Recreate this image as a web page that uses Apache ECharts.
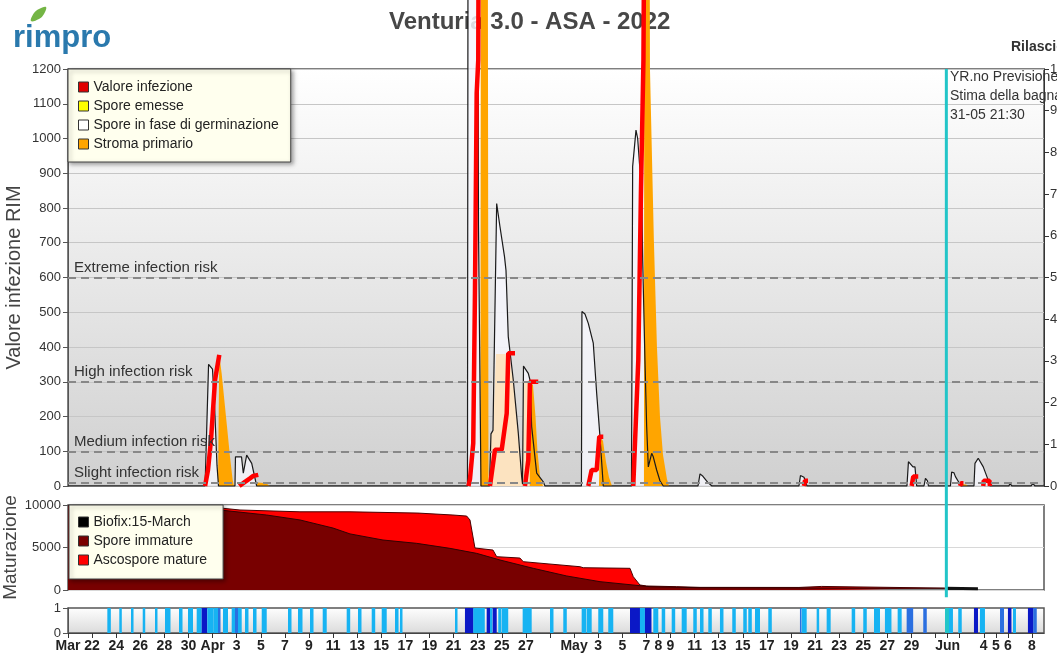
<!DOCTYPE html>
<html>
<head>
<meta charset="utf-8">
<title>Venturia 3.0 - ASA - 2022</title>
<script src="https://cdn.jsdelivr.net/npm/echarts@6/dist/echarts.min.js"></script>
<style>
html, body { margin: 0; padding: 0; background: #fff; }
#grafico { width: 1057px; height: 658px; }
</style>
</head>
<body>
<div id="grafico"></div>
<script>
/**********************************************/
/* Dati del grafico */
/**********************************************/
// etichette dell'asse tempo
var ETICHETTE_GIORNI = ['2022-03-20','2022-03-22','2022-03-24','2022-03-26','2022-03-28','2022-03-30',
	'2022-04-01','2022-04-03','2022-04-05','2022-04-07','2022-04-09','2022-04-11','2022-04-13','2022-04-15',
	'2022-04-17','2022-04-19','2022-04-21','2022-04-23','2022-04-25','2022-04-27',
	'2022-05-01','2022-05-03','2022-05-05','2022-05-07','2022-05-08','2022-05-09','2022-05-11','2022-05-13',
	'2022-05-15','2022-05-17','2022-05-19','2022-05-21','2022-05-23','2022-05-25','2022-05-27','2022-05-29',
	'2022-06-01','2022-06-04','2022-06-05','2022-06-06','2022-06-08'];
var ETICHETTE_TESTO = ['Mar','22','24','26','28','30',
	'Apr','3','5','7','9','11','13','15','17','19','21','23','25','27',
	'May','3','5','7','8','9','11','13','15','17','19','21','23','25','27','29',
	'Jun','4','5','6','8'];

// soglie di rischio
var sogliaValori = [600, 300, 100, 10];
var sogliaNomi = ['Extreme infection risk', 'High infection risk', 'Medium infection risk', 'Slight infection risk'];

// spore in fase di germinazione (linea nera)
var sporeGerminazione = [
	['2022-03-20 00:00', 0], ['2022-03-31 09:00', 0], ['2022-03-31 16:00', 350], ['2022-03-31 19:00', 352],
	['2022-03-31 23:50', 336], ['2022-04-01 04:50', 200], ['2022-04-01 08:45', 60], ['2022-04-01 11:45', 0],
	['2022-04-02 20:35', 0], ['2022-04-02 21:35', 84], ['2022-04-03 09:35', 84], ['2022-04-03 13:10', 37],
	['2022-04-03 19:55', 89], ['2022-04-04 05:55', 65], ['2022-04-04 15:50', 0],
	['2022-04-22 03:40', 0], ['2022-04-22 05:40', 3000], ['2022-04-22 22:35', 3000], ['2022-04-23 01:35', 750],
	['2022-04-23 06:35', 0], ['2022-04-23 23:30', 0], ['2022-04-24 02:30', 150], ['2022-04-24 06:30', 160],
	['2022-04-24 13:50', 813], ['2022-04-24 20:25', 746], ['2022-04-25 05:25', 660], ['2022-04-25 08:25', 620],
	['2022-04-25 12:55', 430], ['2022-04-25 22:55', 305], ['2022-04-26 08:55', 152], ['2022-04-26 15:35', 27],
	['2022-04-26 17:20', 5], ['2022-04-26 19:15', 345], ['2022-04-26 22:10', 348], ['2022-04-27 04:50', 324],
	['2022-04-27 08:10', 305], ['2022-04-27 11:30', 171], ['2022-04-27 21:30', 37], ['2022-04-28 10:40', 12],
	['2022-04-28 14:00', 0], ['2022-05-01 14:40', 0], ['2022-05-01 15:40', 502], ['2022-05-01 21:40', 495],
	['2022-05-02 04:20', 468], ['2022-05-02 14:15', 411], ['2022-05-02 21:00', 267], ['2022-05-03 03:35', 142],
	['2022-05-03 10:10', 0], ['2022-05-05 18:20', 0], ['2022-05-05 20:40', 919], ['2022-05-06 03:20', 1024],
	['2022-05-06 06:40', 1000], ['2022-05-06 14:40', 842], ['2022-05-06 16:40', 650], ['2022-05-06 21:10', 362],
	['2022-05-07 00:35', 171], ['2022-05-07 03:50', 55], ['2022-05-07 10:35', 94], ['2022-05-07 13:45', 84],
	['2022-05-07 20:30', 46], ['2022-05-08 03:05', 15], ['2022-05-08 09:40', 0],
	['2022-05-11 06:50', 0], ['2022-05-11 10:50', 35], ['2022-05-11 16:40', 28], ['2022-05-12 02:40', 10],
	['2022-05-12 10:35', 0], ['2022-05-19 15:55', 0], ['2022-05-19 18:55', 30], ['2022-05-20 01:55', 25],
	['2022-05-20 07:55', 0], ['2022-05-28 15:00', 0], ['2022-05-28 18:00', 70], ['2022-05-28 21:00', 72],
	['2022-05-29 03:00', 55], ['2022-05-29 07:00', 55], ['2022-05-29 10:25', 0], ['2022-05-30 00:55', 0],
	['2022-05-30 03:55', 22], ['2022-05-30 07:55', 15], ['2022-05-30 09:50', 0], ['2022-06-01 05:40', 0],
	['2022-06-01 08:05', 40], ['2022-06-01 12:35', 38], ['2022-06-01 15:35', 27], ['2022-06-01 22:35', 10],
	['2022-06-02 02:35', 0], ['2022-06-03 04:30', 0], ['2022-06-03 06:30', 65], ['2022-06-03 13:00', 80],
	['2022-06-03 23:00', 55], ['2022-06-04 08:55', 17], ['2022-06-04 12:20', 0], ['2022-06-06 02:10', 0],
	['2022-06-06 04:10', 7], ['2022-06-06 08:10', 0], ['2022-06-07 22:00', 0], ['2022-06-08 02:00', 7],
	['2022-06-08 06:00', 0], ['2022-06-09 00:00', 0]
];

// valore infezione (linea rossa), '-' = interruzione
var valoreInfezione = [
	['2022-03-31 09:00', 0], ['2022-03-31 14:50', 46], ['2022-03-31 20:50', 132], ['2022-04-01 04:50', 305],
	['2022-04-01 13:20', 377], ['2022-04-01 14:00', '-'],
	['2022-04-03 05:10', 0], ['2022-04-03 16:30', 12], ['2022-04-04 02:30', 22], ['2022-04-04 09:05', 29],
	['2022-04-04 12:25', 32], ['2022-04-04 19:00', 32], ['2022-04-04 20:00', '-'],
	['2022-04-22 05:40', 0], ['2022-04-22 08:40', 20], ['2022-04-22 15:10', 123], ['2022-04-22 18:35', 555],
	['2022-04-22 22:00', 1130], ['2022-04-23 01:10', 1226], ['2022-04-23 03:35', 2500], ['2022-04-23 04:00', '-'],
	['2022-04-24 00:30', 0], ['2022-04-24 10:25', 104], ['2022-04-24 23:50', 104], ['2022-04-25 09:50', 209],
	['2022-04-25 12:55', 382], ['2022-04-26 02:20', 382], ['2022-04-26 03:00', '-'],
	['2022-04-26 22:10', 0], ['2022-04-27 04:50', 75], ['2022-04-27 08:10', 300], ['2022-04-28 00:40', 300],
	['2022-04-28 01:00', '-'],
	['2022-05-02 04:20', 0], ['2022-05-02 11:00', 46], ['2022-05-02 21:00', 46], ['2022-05-03 02:10', 142],
	['2022-05-03 10:10', 142], ['2022-05-03 11:00', '-'],
	['2022-05-05 21:55', 0], ['2022-05-06 07:55', 362], ['2022-05-06 13:10', 843], ['2022-05-06 18:10', 1226],
	['2022-05-06 23:10', 2500], ['2022-05-07 00:00', '-'],
	['2022-05-20 01:55', 0], ['2022-05-20 03:55', 15], ['2022-05-20 09:55', 15], ['2022-05-20 10:30', '-'],
	['2022-05-29 00:25', 0], ['2022-05-29 03:35', 27], ['2022-05-29 13:30', 27], ['2022-05-29 14:00', '-'],
	['2022-06-02 00:35', 0], ['2022-06-02 02:35', 8], ['2022-06-02 07:35', 8], ['2022-06-02 08:00', '-'],
	['2022-06-03 23:00', 0], ['2022-06-04 00:00', 15], ['2022-06-04 11:20', 15], ['2022-06-04 12:20', 0]
];

// stroma primario (area arancione)
var stromaPrimario = [
	['2022-03-20 00:00', 0], ['2022-04-01 10:45', 0], ['2022-04-01 13:20', 377], ['2022-04-01 18:05', 324],
	['2022-04-02 04:05', 180], ['2022-04-02 10:40', 84], ['2022-04-02 16:00', 17], ['2022-04-02 18:35', 0],
	['2022-04-04 14:25', 0], ['2022-04-04 18:25', 10], ['2022-04-05 10:25', 8], ['2022-04-05 18:20', 0],
	['2022-04-23 05:35', 0], ['2022-04-23 06:35', 2500], ['2022-04-23 19:30', 2500], ['2022-04-23 21:30', 0],
	['2022-04-27 07:45', 0], ['2022-04-27 08:45', 300], ['2022-04-27 14:10', 290], ['2022-04-27 19:10', 200],
	['2022-04-27 23:05', 100], ['2022-04-28 04:05', 27], ['2022-04-28 10:05', 0],
	['2022-05-03 01:35', 0], ['2022-05-03 03:35', 140], ['2022-05-03 09:35', 130], ['2022-05-03 15:30', 70],
	['2022-05-03 21:30', 25], ['2022-05-04 03:30', 0],
	['2022-05-06 19:10', 0], ['2022-05-06 20:10', 2500], ['2022-05-07 05:10', 2500], ['2022-05-07 07:10', 1200],
	['2022-05-07 15:05', 700], ['2022-05-07 21:05', 400], ['2022-05-08 03:05', 200], ['2022-05-08 09:05', 90],
	['2022-05-08 17:00', 20], ['2022-05-08 21:00', 0],
	['2022-06-02 02:35', 0], ['2022-06-02 04:35', 6], ['2022-06-02 12:35', 4], ['2022-06-02 16:35', 0],
	['2022-06-09 00:00', 0]
];

// spore emesse (area chiara)
var sporeEmesse = [
	['2022-04-24 00:30', 0], ['2022-04-24 02:30', 150], ['2022-04-24 06:30', 160], ['2022-04-24 12:25', 380],
	['2022-04-25 12:55', 380], ['2022-04-25 22:55', 305], ['2022-04-26 08:55', 152], ['2022-04-26 15:35', 27],
	['2022-04-26 17:20', 5], ['2022-04-26 19:15', 300], ['2022-04-27 08:10', 300], ['2022-04-27 11:30', 171],
	['2022-04-27 21:30', 37], ['2022-04-28 10:40', 12], ['2022-04-28 14:00', 0]
];

// maturazione: ascospore mature (bordo superiore) e spore immature
var ascosporeMature = [
	['2022-03-20 00:00', 9950], ['2022-04-01 14:45', 9650], ['2022-04-03 06:35', 9410], ['2022-04-08 06:05', 9200],
	['2022-04-12 09:40', 9200], ['2022-04-18 01:05', 9050], ['2022-04-20 22:50', 8820], ['2022-04-22 02:05', 8700],
	['2022-04-22 08:40', 8240], ['2022-04-22 18:35', 4940], ['2022-04-24 06:30', 4700], ['2022-04-24 13:50', 3920],
	['2022-04-26 12:10', 3760], ['2022-04-26 18:50', 3330], ['2022-05-01 11:45', 2740], ['2022-05-01 18:20', 2620],
	['2022-05-05 15:20', 2550], ['2022-05-05 21:55', 1570], ['2022-05-06 11:10', 590], ['2022-05-07 00:35', 470],
	['2022-05-09 12:20', 390], ['2022-05-11 10:50', 310], ['2022-05-19 15:55', 300], ['2022-05-19 17:55', 420],
	['2022-05-21 13:05', 420], ['2022-05-21 13:40', 270], ['2022-05-31 18:40', 220]
];
var sporeImmature = [
	['2022-03-20 00:00', 9900], ['2022-04-01 14:45', 9410], ['2022-04-05 11:45', 8820], ['2022-04-08 06:05', 8240],
	['2022-04-10 23:50', 7290], ['2022-04-12 09:40', 6600], ['2022-04-15 03:25', 5880], ['2022-04-17 22:30', 5490],
	['2022-04-20 16:50', 4900], ['2022-04-22 22:00', 4310], ['2022-04-24 20:25', 3530], ['2022-04-27 14:40', 2550],
	['2022-04-30 09:20', 1650], ['2022-05-03 03:35', 980], ['2022-05-05 21:20', 590], ['2022-05-07 07:10', 390],
	['2022-05-11 10:50', 270], ['2022-05-19 17:55', 250], ['2022-05-31 18:40', 200]
];
var biofixPrevisione = [['2022-05-31 20:40', 220], ['2022-06-03 12:25', 160]];

// bagnatura fogliare: inizio, durata (ore), livello (1 chiaro, 2 medio, 3 scuro)
var bagnaturaInizio = ['2022-03-23 06:20','2022-03-24 06:10','2022-03-25 05:30','2022-03-26 04:50','2022-03-27 05:15',
	'2022-03-28 01:10','2022-03-29 05:05','2022-03-29 23:00','2022-03-30 16:20','2022-03-31 02:20','2022-03-31 13:25',
	'2022-04-01 01:25','2022-04-01 10:45','2022-04-01 20:40','2022-04-02 14:00','2022-04-02 20:35','2022-04-03 16:30',
	'2022-04-04 08:30','2022-04-05 01:50','2022-04-07 06:10','2022-04-08 02:05','2022-04-09 02:00','2022-04-10 03:20',
	'2022-04-12 03:05','2022-04-13 01:35','2022-04-14 04:55','2022-04-15 00:50','2022-04-16 03:20','2022-04-16 13:15',
	'2022-04-21 02:50','2022-04-21 22:40','2022-04-22 15:10','2022-04-23 17:55','2022-04-24 00:30','2022-04-24 05:55',
	'2022-04-24 17:00','2022-04-24 23:50','2022-04-26 17:35','2022-04-29 00:00','2022-04-30 02:30','2022-05-01 15:05',
	'2022-05-02 01:05','2022-05-03 00:10','2022-05-03 20:05','2022-05-05 15:20','2022-05-06 11:10','2022-05-06 21:10',
	'2022-05-07 13:45','2022-05-08 06:30','2022-05-09 02:25','2022-05-09 22:20','2022-05-10 21:25','2022-05-11 10:50',
	'2022-05-12 03:20','2022-05-13 02:35','2022-05-14 03:05','2022-05-15 01:00','2022-05-15 11:00','2022-05-16 00:20',
	'2022-05-17 02:50','2022-05-19 17:55','2022-05-19 21:20','2022-05-21 03:10','2022-05-21 23:05','2022-05-24 00:55',
	'2022-05-25 00:00','2022-05-25 21:20','2022-05-26 19:10','2022-05-27 20:30','2022-05-28 14:25','2022-05-29 23:30',
	'2022-06-01 00:40','2022-06-01 21:10','2022-06-03 04:30','2022-06-03 16:25','2022-06-05 08:20','2022-06-06 00:10',
	'2022-06-06 10:10','2022-06-07 16:00','2022-06-08 02:35'];
var bagnaturaOre = [7,5,5,5,5, 11,7,10,10,11,12, 13,5,10,20,6,7, 7,10,7,9,7,8, 7,7,7,10,7,5,
	5,17,23,7,5,8, 6,13,18,7,7,9, 10,10,10,20,10,13, 10,7,7,10,7,7, 7,7,7,7,7,10,
	7,3,10,5,8,7, 7,12,13,8,13,7, 10,7,8,10,8,7, 6,11,7];
var bagnaturaLivello = [1,1,1,1,1, 1,1,1,1,3,1, 1,2,1,1,2,1, 1,1,1,1,1,1, 1,1,1,1,1,1,
	1,3,1,3,1,3, 1,1,1,1,1,1, 1,1,1,3,1,3, 1,1,1,1,1,1, 1,1,1,1,1,1,
	1,2,1,1,1,1, 1,1,1,1,2,2, 1,1,3,1,2,3, 1,3,2];

// inizio della previsione YR.no
var previsioneDa = '2022-05-31 21:30';

/**********************************************/
/* Funzioni di supporto */
/**********************************************/
// converte "AAAA-MM-GG hh:mm" in millisecondi (ora locale)
function tempo(s) {
	var p = s.split(/[- :]/).map(Number);
	return new Date(p[0], p[1] - 1, p[2], p[3] || 0, p[4] || 0).getTime();
}
function punti(lista) {
	return lista.map(function (p) { return [tempo(p[0]), p[1]]; });
}

var INIZIO = tempo('2022-03-20 00:00');
var FINE = tempo('2022-06-09 00:00');
var T_PREV = tempo(previsioneDa);

// etichette e tacche dell'asse tempo
var mappaEtichette = {};
var valoriEtichette = ETICHETTE_GIORNI.map(function (g, i) {
	var t = tempo(g);
	mappaEtichette[t] = ETICHETTE_TESTO[i];
	return t;
});
var tacche = [];
for (var g = 0; g <= 81; g += 2) {
	tacche.push(new Date(2022, 2, 20 + g).getTime());
}
valoriEtichette.forEach(function (t) { if (tacche.indexOf(t) < 0) tacche.push(t); });
tacche.sort(function (a, b) { return a - b; });

var COLORI_BAGNATURA = { 1: '#17b3f2', 2: '#2b6fe0', 3: '#0b18c6' };
var datiBagnatura = bagnaturaInizio.map(function (s, i) {
	var t = tempo(s);
	return [t, t + bagnaturaOre[i] * 3600000, bagnaturaLivello[i]];
});

var FONT = '"Liberation Sans", Arial, sans-serif';

function numeroSemplice(v) { return String(v); }

function asseTempo(indice, conEtichette) {
	return {
		type: 'value',
		gridIndex: indice,
		min: INIZIO,
		max: FINE,
		splitLine: { show: false },
		axisLine: { show: conEtichette, lineStyle: { color: '#444', width: 1 } },
		axisTick: { show: conEtichette, customValues: tacche, length: 5, lineStyle: { color: '#333' } },
		axisLabel: {
			show: conEtichette,
			customValues: valoriEtichette,
			formatter: function (v) { return mappaEtichette[v] || ''; },
			fontWeight: 'bold',
			fontSize: 14,
			color: '#222',
			margin: 6
		}
	};
}

function sfondo(alto, basso) {
	return new echarts.graphic.LinearGradient(0, 0, 0, 1, [
		{ offset: 0, color: alto },
		{ offset: 1, color: basso }
	]);
}

/**********************************************/
/* Grafico */
/**********************************************/
var chart = echarts.init(document.getElementById('grafico'), null, { renderer: 'canvas' });

chart.setOption({
	animation: false,
	textStyle: { fontFamily: FONT },
	title: {
		text: 'Venturia 3.0 - ASA - 2022',
		left: 384,
		top: 5,
		z: 0,
		textStyle: { fontSize: 24, fontWeight: 'bold', color: '#474747', fontFamily: FONT }
	},
	legend: [
		{
			left: 68, top: 69,
			orient: 'vertical',
			selectedMode: false,
			data: ['Valore infezione', 'Spore emesse', 'Spore in fase di germinazione', 'Stroma primario'],
			icon: 'rect', itemWidth: 10, itemHeight: 10, itemGap: 5,
			padding: [11, 12, 11, 10],
			backgroundColor: '#ffffee',
			borderColor: '#444', borderWidth: 1,
			shadowBlur: 4, shadowColor: 'rgba(0,0,0,0.35)', shadowOffsetX: 2, shadowOffsetY: 2,
			itemStyle: { borderColor: '#333', borderWidth: 1 },
			textStyle: { fontSize: 14, color: '#222' }
		},
		{
			left: 69, top: 505,
			orient: 'vertical',
			selectedMode: false,
			data: ['Biofix:15-March', 'Spore immature', 'Ascospore mature'],
			icon: 'rect', itemWidth: 10, itemHeight: 10, itemGap: 5,
			padding: [10, 16, 12, 9],
			backgroundColor: '#ffffee',
			borderColor: '#444', borderWidth: 1,
			shadowBlur: 4, shadowColor: 'rgba(0,0,0,0.35)', shadowOffsetX: 2, shadowOffsetY: 2,
			itemStyle: { borderColor: '#333', borderWidth: 1 },
			textStyle: { fontSize: 14, color: '#222' }
		}
	],
	grid: [
		{ left: 68, top: 69, width: 976, height: 417, outerBoundsMode: 'none', containLabel: false, show: true, backgroundColor: sfondo('#ffffff', '#d0d0d0'), borderColor: '#555', borderWidth: 1.5 },
		{ left: 68, top: 505, width: 976, height: 85, outerBoundsMode: 'none', containLabel: false, show: true, backgroundColor: '#ffffff', borderColor: '#555', borderWidth: 1.5 },
		{ left: 68, top: 608, width: 976, height: 25, outerBoundsMode: 'none', containLabel: false, show: true, backgroundColor: sfondo('#ffffff', '#dadada'), borderColor: '#555', borderWidth: 1.5 }
	],
	xAxis: [asseTempo(0, false), asseTempo(1, false), asseTempo(2, true)],
	yAxis: [
		{
			type: 'value', gridIndex: 0, min: 0, max: 1200, interval: 100,
			name: 'Valore infezione RIM', nameLocation: 'middle', nameGap: 44, nameMoveOverlap: false,
			nameTextStyle: { fontSize: 20, color: '#444' },
			axisLine: { show: true, lineStyle: { color: '#555' } },
			axisTick: { show: true, length: 5, lineStyle: { color: '#555' } },
			axisLabel: { fontSize: 13, color: '#333', margin: 7, formatter: numeroSemplice },
			splitLine: { lineStyle: { color: '#c6c6c6', width: 1 } }
		},
		{
			type: 'value', gridIndex: 0, position: 'right', min: 0, max: 10, interval: 1,
			axisLine: { show: true, lineStyle: { color: '#333' } },
			axisTick: { show: true, length: 5, lineStyle: { color: '#333' } },
			axisLabel: { fontSize: 13, color: '#333', margin: 6, formatter: numeroSemplice },
			splitLine: { show: false }
		},
		{
			type: 'value', gridIndex: 1, min: 0, max: 10000, interval: 5000,
			name: 'Maturazione', nameLocation: 'middle', nameGap: 48, nameMoveOverlap: false,
			nameTextStyle: { fontSize: 19, color: '#444' },
			axisLine: { show: true, lineStyle: { color: '#555' } },
			axisTick: { show: true, length: 5, lineStyle: { color: '#555' } },
			axisLabel: { fontSize: 13, color: '#333', margin: 7, formatter: numeroSemplice },
			splitLine: { lineStyle: { color: '#d8d8d8' } }
		},
		{
			type: 'value', gridIndex: 2, min: 0, max: 1, interval: 1,
			axisLine: { show: true, lineStyle: { color: '#555' } },
			axisTick: { show: true, length: 5, lineStyle: { color: '#555' } },
			axisLabel: { fontSize: 13, color: '#333', margin: 7, formatter: numeroSemplice },
			splitLine: { show: false }
		}
	],
	graphic: [
		{
			type: 'polygon', x: 31, y: 7,
			shape: { points: [[0, 14], [3, 6], [8, 2], [15, 0], [13, 7], [8, 12]], smooth: 0.4 },
			style: { fill: '#74b545' }
		},
		{
			type: 'text', left: 13, top: 23,
			style: { text: 'rimpro', font: 'bold 31px ' + FONT, fill: '#2a79ad' }
		},
		{
			type: 'text', left: 1011, top: 40,
			style: { text: 'Rilascio spore', font: 'bold 14px ' + FONT, fill: '#333' }
		},
		{
			type: 'text', left: 950, top: 68,
			style: { text: 'YR.no Previsione\nStima della bagnatura\n31-05 21:30', font: '14px ' + FONT, fill: '#333', lineHeight: 19 }
		}
	],
	series: [
		// area bianca delle spore in germinazione + soglie di rischio
		{
			name: 'Spore in fase di germinazione', type: 'line', xAxisIndex: 0, yAxisIndex: 0,
			data: punti(sporeGerminazione), symbol: 'none', clip: false,
			itemStyle: { color: '#ffffff' },
			lineStyle: { width: 0 },
			areaStyle: { color: '#f6f6fc', opacity: 0.85 },
			markLine: {
				silent: true, symbol: 'none', animation: false,
				lineStyle: { color: '#888', type: [8, 5], width: 2 },
				label: { position: 'insideStartTop', color: '#333', fontSize: 15, distance: 2, padding: [0, 0, 0, 4], formatter: function (p) { return p.name; } },
				data: sogliaValori.map(function (v, i) { return { yAxis: v, name: sogliaNomi[i] }; })
			}
		},
		{
			name: 'Spore emesse', type: 'line', xAxisIndex: 0, yAxisIndex: 0,
			data: punti(sporeEmesse), symbol: 'none', clip: false,
			itemStyle: { color: '#ffff00' },
			lineStyle: { width: 0 },
			areaStyle: { color: '#fce3c0', opacity: 1 }
		},
		{
			name: 'Stroma primario', type: 'line', xAxisIndex: 0, yAxisIndex: 0,
			data: punti(stromaPrimario), symbol: 'none', clip: false,
			itemStyle: { color: '#ffa500' },
			lineStyle: { width: 0 },
			areaStyle: { color: '#ffa500', opacity: 1 }
		},
		{
			name: 'Spore in fase di germinazione', type: 'line', xAxisIndex: 0, yAxisIndex: 0,
			data: punti(sporeGerminazione), symbol: 'none', clip: false,
			itemStyle: { color: '#ffffff' },
			lineStyle: { color: '#1a1a1a', width: 1.2 }
		},
		{
			name: 'Valore infezione', type: 'line', xAxisIndex: 0, yAxisIndex: 0,
			data: punti(valoreInfezione), symbol: 'none', clip: false, connectNulls: false,
			itemStyle: { color: '#e00000' },
			lineStyle: { color: '#ff0000', width: 4.5 }
		},
		// linea di inizio previsione
		{
			name: 'YR.no', type: 'line', xAxisIndex: 0, yAxisIndex: 0, z: 10,
			data: [[T_PREV, 1200], [T_PREV, -320]], symbol: 'none', clip: false,
			lineStyle: { color: '#22c5c8', width: 3 }
		},
		// maturazione
		{
			name: 'Ascospore mature', type: 'line', xAxisIndex: 1, yAxisIndex: 2,
			data: punti(ascosporeMature), symbol: 'none',
			itemStyle: { color: '#ff0000' },
			lineStyle: { color: '#4a0000', width: 1 },
			areaStyle: { color: '#ff0000', opacity: 1 }
		},
		{
			name: 'Spore immature', type: 'line', xAxisIndex: 1, yAxisIndex: 2,
			data: punti(sporeImmature), symbol: 'none',
			itemStyle: { color: '#7a0000' },
			lineStyle: { color: '#320000', width: 1 },
			areaStyle: { color: '#780000', opacity: 1 }
		},
		{
			name: 'Biofix:15-March', type: 'line', xAxisIndex: 1, yAxisIndex: 2,
			data: punti(biofixPrevisione), symbol: 'none',
			itemStyle: { color: '#000000' },
			lineStyle: { color: '#111', width: 3 },
			areaStyle: { color: '#222', opacity: 1 }
		},
		// bagnatura fogliare
		{
			name: 'Bagnatura', type: 'custom', xAxisIndex: 2, yAxisIndex: 3,
			data: datiBagnatura,
			encode: { x: [0, 1] },
			renderItem: function (params, api) {
				var p0 = api.coord([api.value(0), 1]);
				var p1 = api.coord([api.value(1), 0]);
				return {
					type: 'rect',
					shape: { x: p0[0], y: p0[1], width: Math.max(p1[0] - p0[0], 1.5), height: p1[1] - p0[1] },
					style: { fill: COLORI_BAGNATURA[api.value(2)] }
				};
			},
			markLine: {
				silent: true, symbol: 'none', animation: false,
				label: { show: false },
				lineStyle: { color: '#22c5c8', width: 4, type: 'solid' },
				data: [{ xAxis: T_PREV }]
			}
		}
	]
});
</script>
</body>
</html>
